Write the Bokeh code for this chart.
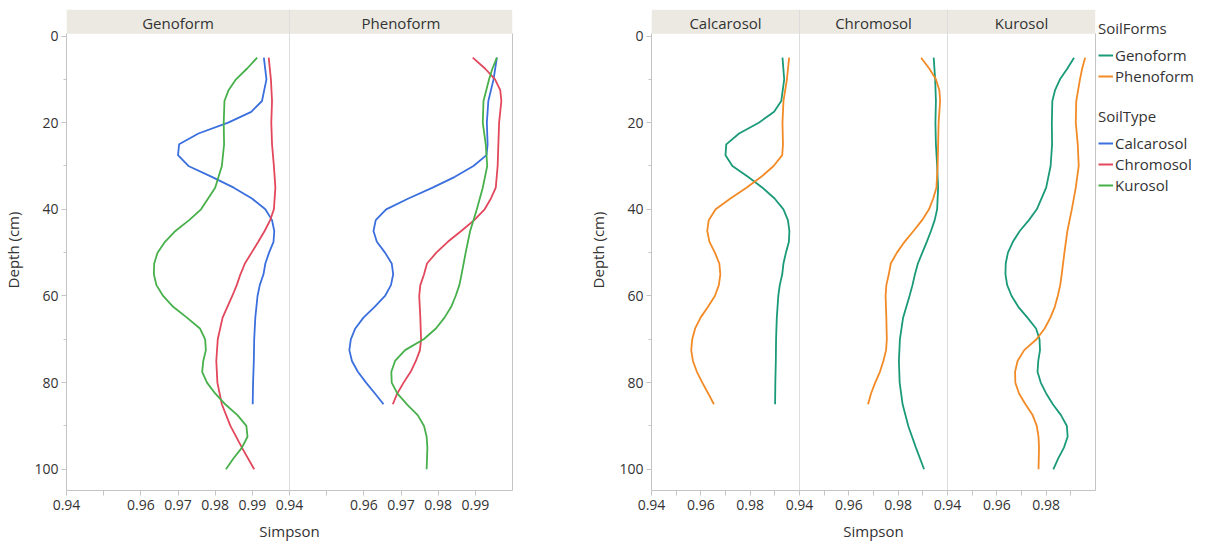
from bokeh.plotting import figure
from bokeh.models import Range1d, FixedTicker, LinearAxis, Span, Legend, LegendItem
from bokeh.layouts import row
from bokeh.embed import file_html
from bokeh.resources import INLINE
from bokeh.core.properties import value

# ---------------- data ----------------
soil_forms = ["Genoform", "Phenoform"]
soil_types = ["Calcarosol", "Chromosol", "Kurosol"]

genoform_calcarosol_depth = [5, 10, 15, 17.5, 20, 22.5, 25, 27.5, 30, 32.5, 35, 37.5, 40, 42.5, 45, 47.5,
                             50, 52.5, 55, 57.5, 60, 65, 70, 75, 80, 85]
genoform_calcarosol_simpson = [0.9931, 0.9938, 0.9926, 0.9897, 0.9835, 0.9755, 0.9703, 0.9700, 0.9728, 0.9791,
                               0.9850, 0.9899, 0.9935, 0.9953, 0.9959, 0.9957, 0.9945, 0.9935, 0.9930, 0.9920,
                               0.9914, 0.9908, 0.9905, 0.9904, 0.9902, 0.9901]

genoform_chromosol_depth = [5, 10, 15, 20, 25, 30, 35, 40, 42.5, 45, 47.5, 50, 52.5, 55, 57.5, 60, 65, 70,
                            75, 80, 85, 90, 95, 100]
genoform_chromosol_simpson = [0.9944, 0.9950, 0.9953, 0.9951, 0.9953, 0.9958, 0.9962, 0.9958, 0.9948, 0.9933,
                              0.9916, 0.9898, 0.9880, 0.9868, 0.9858, 0.9846, 0.9820, 0.9807, 0.9803, 0.9806,
                              0.9818, 0.9841, 0.9872, 0.9905]

genoform_kurosol_depth = [5, 7.5, 10, 12.5, 15, 20, 25, 30, 35, 40, 42.5, 45, 47.5, 50, 52.5, 55, 57.5, 60,
                          62.5, 65, 67.5, 70, 72.5, 75, 77.5, 80, 82.5, 85, 87.5, 90, 92.5, 95, 97.5, 100]
genoform_kurosol_simpson = [0.9913, 0.9886, 0.9856, 0.9836, 0.9825, 0.9823, 0.9824, 0.9818, 0.9800, 0.9762,
                            0.9730, 0.9693, 0.9665, 0.9645, 0.9636, 0.9635, 0.9642, 0.9660, 0.9687, 0.9724,
                            0.9759, 0.9773, 0.9775, 0.9768, 0.9765, 0.9778, 0.9800, 0.9827, 0.9860, 0.9884,
                            0.9887, 0.9872, 0.9849, 0.9829]

phenoform_calcarosol_depth = [5, 10, 15, 20, 25, 27.5, 30, 32.5, 35, 37.5, 40, 42.5, 45, 47.5, 50, 52.5, 55,
                              57.5, 60, 62.5, 65, 67.5, 70, 72.5, 75, 77.5, 80, 82.5, 85]
phenoform_calcarosol_simpson = [0.9958, 0.9949, 0.9935, 0.9931, 0.9933, 0.9930, 0.9895, 0.9845, 0.9785, 0.9720,
                                0.9660, 0.9632, 0.9626, 0.9635, 0.9657, 0.9675, 0.9679, 0.9673, 0.9657, 0.9629,
                                0.9599, 0.9577, 0.9565, 0.9561, 0.9568, 0.9584, 0.9606, 0.9630, 0.9653]

phenoform_chromosol_depth = [5, 7.5, 10, 12.5, 15, 20, 25, 30, 35, 37.5, 40, 42.5, 45, 47.5, 50, 52.5, 55,
                             57.5, 60, 65, 70, 72.5, 75, 77.5, 80, 82.5, 85]
phenoform_chromosol_simpson = [0.9893, 0.9926, 0.9953, 0.9967, 0.9970, 0.9964, 0.9962, 0.9960, 0.9955, 0.9942,
                               0.9925, 0.9897, 0.9862, 0.9826, 0.9795, 0.9770, 0.9762, 0.9752, 0.9749, 0.9752,
                               0.9754, 0.9751, 0.9740, 0.9726, 0.9707, 0.9690, 0.9678]

phenoform_kurosol_depth = [5, 7.5, 10, 15, 20, 25, 30, 35, 40, 42.5, 45, 50, 55, 57.5, 60, 62.5, 65, 67.5,
                           70, 72.5, 75, 77.5, 80, 82.5, 85, 87.5, 90, 92.5, 95, 100]
phenoform_kurosol_simpson = [0.9958, 0.9946, 0.9937, 0.9922, 0.9920, 0.9928, 0.9932, 0.9920, 0.9904, 0.9895,
                             0.9886, 0.9874, 0.9863, 0.9857, 0.9847, 0.9835, 0.9817, 0.9794, 0.9761, 0.9711,
                             0.9684, 0.9674, 0.9675, 0.9690, 0.9716, 0.9745, 0.9762, 0.9769, 0.9771, 0.9769]

simpson_ticks = [0.94, 0.95, 0.96, 0.97, 0.98, 0.99]
form_panel_tick_labels = ["0.94", "", "0.96", "0.97", "0.98", "0.99"]
type_panel_tick_labels = ["0.94", "", "0.96", "", "0.98", ""]
depth_ticks = [0, 20, 40, 60, 80, 100]
depth_minor_ticks = [10, 30, 50, 70, 90]

series = {
    ("Genoform", "Calcarosol"): (genoform_calcarosol_depth, genoform_calcarosol_simpson),
    ("Genoform", "Chromosol"): (genoform_chromosol_depth, genoform_chromosol_simpson),
    ("Genoform", "Kurosol"): (genoform_kurosol_depth, genoform_kurosol_simpson),
    ("Phenoform", "Calcarosol"): (phenoform_calcarosol_depth, phenoform_calcarosol_simpson),
    ("Phenoform", "Chromosol"): (phenoform_chromosol_depth, phenoform_chromosol_simpson),
    ("Phenoform", "Kurosol"): (phenoform_kurosol_depth, phenoform_kurosol_simpson),
}

# ---------------- style ----------------
type_colors = {"Calcarosol": "#3b6fde", "Chromosol": "#e2475c", "Kurosol": "#47b04b"}
form_colors = {"Genoform": "#1a9a78", "Phenoform": "#f28a26"}

FONT = "Open Sans"
TEXT = "#333333"
AXIS_GREY = "#c4c4c4"
SEP_GREY = "#dcdcdc"
STRIP_FILL = "#ebe9e1"
SIMPSON_MIN, SIMPSON_MAX, SIMPSON_STEP = 0.94, 1.00, 0.01
UNITS = round((SIMPSON_MAX - SIMPSON_MIN) / SIMPSON_STEP)
SPAN = SIMPSON_MAX - SIMPSON_MIN
DEPTH_BOTTOM = 104.9
STRIP_TOP = -6.12
STRIP_BOTTOM = -0.5
FRAME_H = 481
LINE_W = 1.8
TOP_BORDER = 9
BOTTOM_BORDER = 50


def make_group(panel_names, panel_lines, tick_labels, frame_width, border_left, border_right):
    n = len(panel_names)
    p = figure(frame_width=frame_width, frame_height=FRAME_H,
               min_border_left=border_left, min_border_right=border_right,
               min_border_top=TOP_BORDER, min_border_bottom=BOTTOM_BORDER,
               x_range=Range1d(0, UNITS * n), y_range=Range1d(DEPTH_BOTTOM, STRIP_TOP),
               x_axis_location=None, y_axis_location=None,
               toolbar_location=None, output_backend="svg")
    p.grid.visible = False
    p.outline_line_color = None
    p.background_fill_color = "white"
    p.border_fill_color = "white"

    p.extra_x_ranges = {
        f"panel{k}": Range1d(SIMPSON_MIN - SPAN * k, SIMPSON_MIN + SPAN * (n - k)) for k in range(n)
    }

    major, minor, overrides = [], [], {}
    for k, name in enumerate(panel_names):
        # facet strip
        p.quad(left=[UNITS * k], right=[UNITS * (k + 1)], top=[STRIP_TOP], bottom=[STRIP_BOTTOM],
               fill_color=STRIP_FILL, line_color=None)
        p.text(x=[UNITS * k + UNITS / 2], y=[(STRIP_TOP + STRIP_BOTTOM) / 2 + 0.3], text=[name],
               text_align="center", text_baseline="middle", text_font=value(FONT),
               text_font_size="15px", text_color=TEXT)
        if k > 0:
            p.add_layout(Span(location=UNITS * k, dimension="height", line_color=SEP_GREY, line_width=1))
        for (depths, simpson, color) in panel_lines[k]:
            p.line(x=simpson, y=depths, x_range_name=f"panel{k}", line_color=color, line_width=LINE_W)
        for v, lab in zip(simpson_ticks, tick_labels):
            pos = UNITS * k + round((v - SIMPSON_MIN) / SIMPSON_STEP)
            if lab:
                major.append(pos)
                overrides[pos] = lab
            else:
                minor.append(pos)

    xaxis = LinearAxis(ticker=FixedTicker(ticks=major, minor_ticks=minor),
                       major_label_overrides=overrides, axis_label="Simpson",
                       bounds=(0, UNITS * n))
    yaxis = LinearAxis(ticker=FixedTicker(ticks=depth_ticks, minor_ticks=depth_minor_ticks),
                       axis_label="Depth (cm)", bounds=(STRIP_BOTTOM, DEPTH_BOTTOM))
    for ax in (xaxis, yaxis):
        ax.axis_line_color = AXIS_GREY
        ax.major_tick_line_color = AXIS_GREY
        ax.minor_tick_line_color = AXIS_GREY
        ax.major_tick_in = 0
        ax.minor_tick_in = 0
        ax.major_tick_out = 5
        ax.major_label_text_font = FONT
        ax.major_label_text_font_size = "14px"
        ax.major_label_text_color = TEXT
        ax.axis_label_text_font = FONT
        ax.axis_label_text_font_size = "15px"
        ax.axis_label_text_font_style = "normal"
        ax.axis_label_text_color = TEXT
    xaxis.minor_tick_out = 5
    xaxis.major_label_standoff = 4
    xaxis.axis_label_standoff = 8
    yaxis.minor_tick_out = 3
    yaxis.major_label_standoff = 3
    yaxis.axis_label_standoff = 8
    p.add_layout(xaxis, "below")
    p.add_layout(yaxis, "left")

    rborder = LinearAxis(ticker=FixedTicker(ticks=[], minor_ticks=[]), bounds=(STRIP_BOTTOM, DEPTH_BOTTOM),
                         axis_line_color=AXIS_GREY, major_tick_out=0, major_tick_in=0,
                         minor_tick_out=0, minor_tick_in=0, major_label_standoff=0,
                         major_label_text_font_size="0px")
    p.add_layout(rborder, "right")
    return p


# group 1: facets by soil form, coloured by soil type
g1_lines = [[(series[(f, t)][0], series[(f, t)][1], type_colors[t]) for t in soil_types] for f in soil_forms]
g1 = make_group(soil_forms, g1_lines, form_panel_tick_labels, 446, 59, 73)

# group 2: facets by soil type, coloured by soil form
g2_lines = [[(series[(f, t)][0], series[(f, t)][1], form_colors[f]) for f in soil_forms] for t in soil_types]
g2 = make_group(soil_types, g2_lines, type_panel_tick_labels, 444, 60, 1)

# legend panel (key glyphs only: one missing point each, nothing is plotted)
leg = figure(width=111, height=TOP_BORDER + FRAME_H + BOTTOM_BORDER, min_border=0,
             x_axis_location=None, y_axis_location=None,
             toolbar_location=None, output_backend="svg")
leg.grid.visible = False
leg.outline_line_color = None
NAN = float("nan")

form_items = [LegendItem(label=f, renderers=[leg.line(x=[NAN], y=[NAN], line_color=form_colors[f], line_width=2)])
              for f in soil_forms]
type_items = [LegendItem(label=t, renderers=[leg.line(x=[NAN], y=[NAN], line_color=type_colors[t], line_width=2)])
              for t in soil_types]


def style_legend(lg):
    lg.label_text_font = FONT
    lg.label_text_font_size = "15px"
    lg.label_text_color = TEXT
    lg.title_text_font = FONT
    lg.title_text_font_size = "15px"
    lg.title_text_font_style = "normal"
    lg.title_text_color = TEXT
    lg.title_standoff = 7
    lg.glyph_width = 15
    lg.glyph_height = 20
    lg.label_height = 20
    lg.label_standoff = 2
    lg.spacing = 1
    lg.padding = 0
    lg.margin = 0
    lg.border_line_color = None
    lg.background_fill_alpha = 0


legend_forms = Legend(items=form_items, title="SoilForms", location=(2, 401))
legend_types = Legend(items=type_items, title="SoilType", location=(2, 292))
for lg in (legend_forms, legend_types):
    style_legend(lg)
    leg.add_layout(lg)

layout = row(g1, g2, leg)
open("out.html", "w").write(file_html(layout, INLINE))
